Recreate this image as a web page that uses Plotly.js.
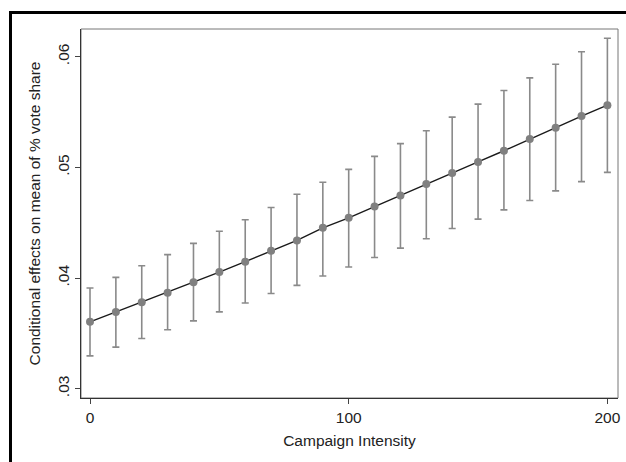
<!DOCTYPE html>
<html>
<head>
<meta charset="utf-8">
<script src="https://cdn.plot.ly/plotly-3.0.1.min.js"></script>
<style>
html, body { margin: 0; padding: 0; overflow: hidden; background: #fff; }
#chart { position: absolute; left: 0; top: 0; width: 626px; height: 462px; }
#frame { position: absolute; left: 9px; top: 11px; width: 700px; height: 600px;
         border-left: 3px solid #000; border-top: 3px solid #000; pointer-events: none; }
</style>
</head>
<body>
<div id="chart"></div>
<div id="frame"></div>
<script>
// Campaign intensity values
const intensity = [0, 10, 20, 30, 40, 50, 60, 70, 80, 90, 100,
                   110, 120, 130, 140, 150, 160, 170, 180, 190, 200];
// Conditional effects (point estimates)
const effect = [0.03604, 0.03694, 0.03781, 0.03868, 0.03961, 0.04054, 0.04148, 0.04247, 0.04340, 0.04454, 0.04544,
                0.04646, 0.04745, 0.04850, 0.04950, 0.05049, 0.05150, 0.05256, 0.05358, 0.05463, 0.05562];
// Upper and lower confidence limits
const upper = [0.03910, 0.04006, 0.04111, 0.04211, 0.04313, 0.04423, 0.04526, 0.04637, 0.04757, 0.04865, 0.04982,
               0.05099, 0.05214, 0.05331, 0.05454, 0.05571, 0.05694, 0.05808, 0.05931, 0.06045, 0.06166];
const lower = [0.03297, 0.03376, 0.03454, 0.03532, 0.03613, 0.03694, 0.03775, 0.03860, 0.03934, 0.04018, 0.04099,
               0.04186, 0.04270, 0.04355, 0.04448, 0.04532, 0.04616, 0.04700, 0.04787, 0.04871, 0.04955];
// Tick labels
const yTickVals = [0.03, 0.04, 0.05, 0.06];
const yTickText = ['.03', '.04', '.05', '.06'];
const xTickVals = [0, 100, 200];
const xTickText = ['0', '100', '200'];

const plus = upper.map((u, i) => u - effect[i]);
const minus = lower.map((l, i) => effect[i] - l);

const traces = [
  {
    x: intensity, y: effect, type: 'scatter', mode: 'lines',
    line: { color: '#1a1a1a', width: 1.4 },
    error_y: { type: 'data', symmetric: false, array: plus, arrayminus: minus,
               color: '#8a8a8a', thickness: 1.6, width: 3.5 },
    hoverinfo: 'skip', showlegend: false
  },
  {
    x: intensity, y: effect, type: 'scatter', mode: 'markers',
    marker: { color: '#808080', size: 8 },
    showlegend: false
  }
];

const font = { family: 'Liberation Sans, Arial, sans-serif', size: 15.5, color: '#222' };

const layout = {
  width: 626, height: 462,
  margin: { l: 81, r: 8, t: 29, b: 64 },
  paper_bgcolor: '#fff', plot_bgcolor: '#fff',
  font: font,
  showlegend: false,
  xaxis: {
    range: [-3.48, 204.1],
    tickvals: xTickVals, ticktext: xTickText,
    ticks: 'outside', ticklen: 5, tickwidth: 1, tickcolor: '#444',
    showline: true, linecolor: '#333', linewidth: 1.2,
    showgrid: false, zeroline: false,
    tickfont: font,
    title: { text: 'Campaign Intensity', font: font, standoff: 10 }
  },
  yaxis: {
    range: [0.02916, 0.0625],
    tickvals: yTickVals, ticktext: yTickText,
    tickangle: -90,
    ticks: 'outside', ticklen: 5, tickwidth: 1, tickcolor: '#444',
    showline: true, linecolor: '#333', linewidth: 1.2,
    showgrid: false, zeroline: false,
    tickfont: font,
    title: { text: 'Conditional effects on mean of % vote share', font: font, standoff: 10 }
  },
  shapes: [
    { type: 'rect', xref: 'paper', yref: 'paper', x0: 0, y0: 0, x1: 1, y1: 1,
      line: { color: '#777', width: 1 }, layer: 'below' }
  ]
};

Plotly.newPlot('chart', traces, layout, { displayModeBar: false, staticPlot: true });
</script>
</body>
</html>
